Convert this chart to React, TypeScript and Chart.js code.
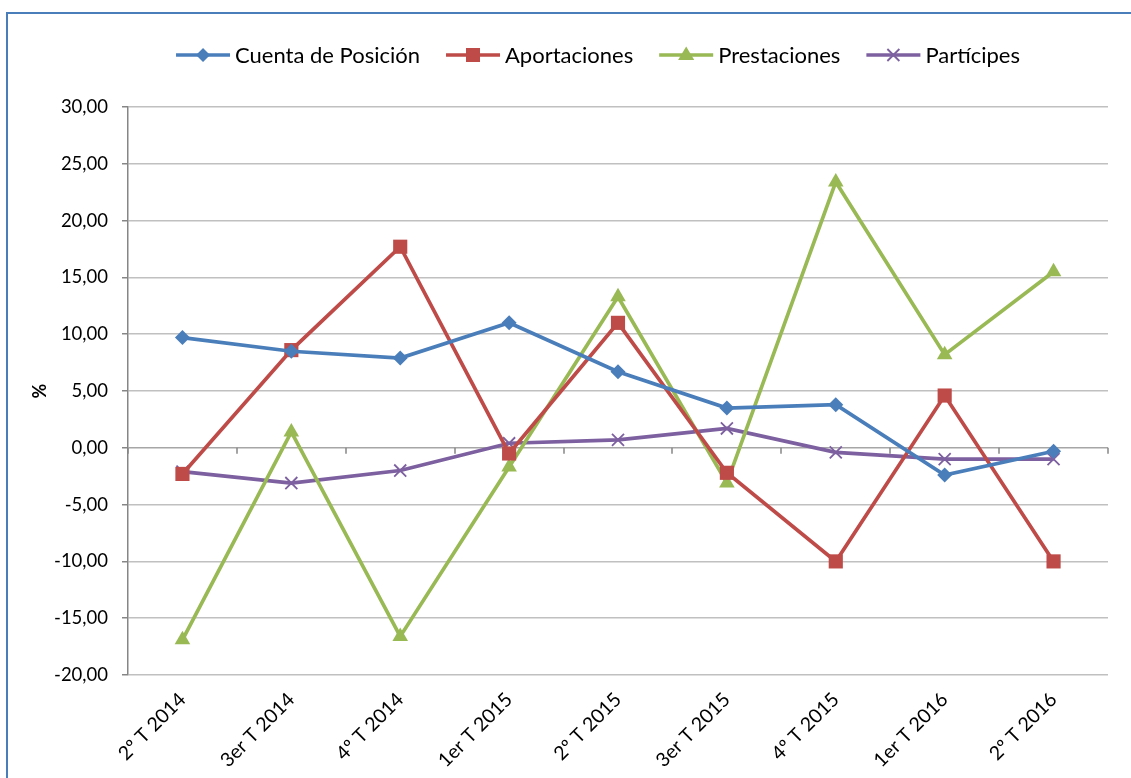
import React, { useEffect, useRef } from 'react';
import { Chart, registerables } from 'chart.js';

Chart.register(...registerables);

const categories = ['2º T 2014', '3er T 2014', '4º T 2014', '1er T 2015', '2º T 2015', '3er T 2015', '4º T 2015', '1er T 2016', '2º T 2016'];
const cuentaPosicion = [9.7, 8.5, 7.9, 11.0, 6.7, 3.5, 3.8, -2.4, -0.3];
const aportaciones = [-2.3, 8.6, 17.7, -0.5, 11.0, -2.2, -10.0, 4.6, -10.0];
const prestaciones = [-16.9, 1.4, -16.6, -1.7, 13.3, -3.1, 23.4, 8.2, 15.5];
const participes = [-2.1, -3.1, -2.0, 0.4, 0.7, 1.7, -0.4, -1.0, -1.0];
const seriesNames = ['Cuenta de Posición', 'Aportaciones', 'Prestaciones', 'Partícipes'];
const seriesColors = ['#4A7EBB', '#BE4B48', '#98B954', '#7D60A0'];
const yMin = -20;
const yMax = 30;
const yStep = 5;
const yTitle = '%';

const FONT = 'Lato, "Open Sans", sans-serif';

function drawMarker(ctx: CanvasRenderingContext2D, style: string, x: number, y: number, color: string) {
  ctx.save();
  ctx.fillStyle = color;
  ctx.strokeStyle = color;
  ctx.beginPath();
  if (style === 'rectRot') {
    const r = 7;
    ctx.moveTo(x, y - r); ctx.lineTo(x + r, y); ctx.lineTo(x, y + r); ctx.lineTo(x - r, y); ctx.closePath(); ctx.fill();
  } else if (style === 'rect') {
    const s = 7;
    ctx.rect(x - s, y - s, 2 * s, 2 * s); ctx.fill();
  } else if (style === 'triangle') {
    const r = 8.5;
    ctx.moveTo(x, y - r); ctx.lineTo(x + r * 0.95, y + r * 0.6); ctx.lineTo(x - r * 0.95, y + r * 0.6); ctx.closePath(); ctx.fill();
  } else {
    const r = 6;
    ctx.lineWidth = 1.8;
    ctx.moveTo(x - r, y - r); ctx.lineTo(x + r, y + r); ctx.moveTo(x + r, y - r); ctx.lineTo(x - r, y + r); ctx.stroke();
  }
  ctx.restore();
}

const legendPlugin = {
  id: 'excelLegend',
  afterDraw(chart: any) {
    const ctx: CanvasRenderingContext2D = chart.ctx;
    ctx.save();
    ctx.font = '22px ' + FONT;
    const lineW = 54, gapT = 5, gapI = 26;
    const items = chart.data.datasets.map((ds: any) => ({
      label: ds.label, color: ds.borderColor, style: ds.pointStyle, w: ctx.measureText(ds.label).width,
    }));
    let total = 0;
    items.forEach((it: any) => { total += lineW + gapT + it.w; });
    total += gapI * (items.length - 1);
    let x = 598 - total / 2;
    const y = 55;
    items.forEach((it: any) => {
      ctx.strokeStyle = it.color;
      ctx.lineWidth = 3.5;
      ctx.beginPath();
      ctx.moveTo(x, y); ctx.lineTo(x + lineW, y); ctx.stroke();
      drawMarker(ctx, it.style, x + lineW / 2, y, it.color);
      ctx.fillStyle = '#000';
      ctx.textBaseline = 'middle';
      ctx.textAlign = 'left';
      ctx.fillText(it.label, x + lineW + gapT, y + 1);
      x += lineW + gapT + it.w + gapI;
    });
    ctx.restore();
  },
};

const zeroTicksPlugin = {
  id: 'zeroTicks',
  beforeDatasetsDraw(chart: any) {
    const xs = chart.scales.x;
    const ys = chart.scales.y;
    const ctx: CanvasRenderingContext2D = chart.ctx;
    const y0 = ys.getPixelForValue(0);
    const step = xs.getPixelForValue(1) - xs.getPixelForValue(0);
    ctx.save();
    ctx.strokeStyle = '#868686';
    ctx.lineWidth = 1.5;
    for (let i = 0; i <= categories.length; i++) {
      const x = Math.round(xs.getPixelForValue(i) - step / 2);
      ctx.beginPath();
      ctx.moveTo(x, y0);
      ctx.lineTo(x, y0 + 6);
      ctx.stroke();
    }
    ctx.restore();
  },
};

export default function App() {
  const ref = useRef<HTMLCanvasElement>(null);
  useEffect(() => {
    if (!ref.current) return;
    Chart.defaults.font.family = FONT;
    Chart.defaults.color = '#000';
    const seriesData = [cuentaPosicion, aportaciones, prestaciones, participes];
    const styles = ['rectRot', 'rect', 'triangle', 'crossRot'];
    const radii = [7.5, 10, 9, 8.5];
    const chart = new Chart(ref.current, {
      type: 'line',
      data: {
        labels: categories,
        datasets: seriesNames.map((name, i) => ({
          label: name,
          data: seriesData[i],
          borderColor: seriesColors[i],
          backgroundColor: seriesColors[i],
          borderWidth: 3.7,
          pointStyle: styles[i] as any,
          pointRadius: radii[i],
          pointBorderWidth: i === 3 ? 1.8 : 0,
          pointBorderColor: seriesColors[i],
          pointBackgroundColor: seriesColors[i],
          tension: 0,
          fill: false,
        })),
      },
      options: {
        responsive: false,
        animation: false,
        events: [],
        layout: { padding: { top: 107, right: 23, bottom: 0, left: 0 } },
        plugins: {
          legend: { display: false },
          tooltip: { enabled: false },
        },
        scales: {
          x: {
            offset: true,
            grid: { display: false, drawTicks: false, offset: true },
            border: { display: false },
            ticks: {
              autoSkip: false,
              maxRotation: 45,
              minRotation: 45,
              padding: 13,
              font: { size: 19.5, family: FONT },
              color: '#000',
            },
            afterFit: (s: any) => { s.height = 103; },
          },
          y: {
            min: yMin,
            max: yMax,
            grid: {
              color: (c: any) => (c.tick && c.tick.value === 0 ? '#A6A6A6' : '#C0C0C0'),
              lineWidth: 1.5,
              drawTicks: true,
              tickLength: 6,
              tickColor: '#868686',
            },
            border: { display: true, color: '#868686', width: 1.5 },
            ticks: {
              stepSize: yStep,
              padding: 14,
              font: { size: 18.5, family: FONT },
              color: '#000',
              callback: (v: any) => Number(v).toFixed(2).replace('.', ','),
            },
            title: {
              display: true,
              text: yTitle,
              font: { size: 18, weight: 'bold', family: FONT },
              color: '#000',
              padding: { top: 29, bottom: 0 },
            },
            afterFit: (s: any) => { s.width = 128; },
          },
        },
      },
      plugins: [zeroTicksPlugin, legendPlugin],
    });
    return () => chart.destroy();
  }, []);

  return (
    <div style={{ position: 'fixed', left: 0, top: 0, width: 1131, height: 778, overflow: 'hidden', background: '#fff' }}>
      <div style={{ position: 'absolute', left: 6, top: 12, width: 1200, height: 900, borderLeft: '2px solid #4A7EBB', borderTop: '2px solid #4A7EBB' }} />
      <canvas ref={ref} width={1131} height={778} style={{ position: 'absolute', left: 0, top: 0, width: 1131, height: 778 }} />
    </div>
  );
}
